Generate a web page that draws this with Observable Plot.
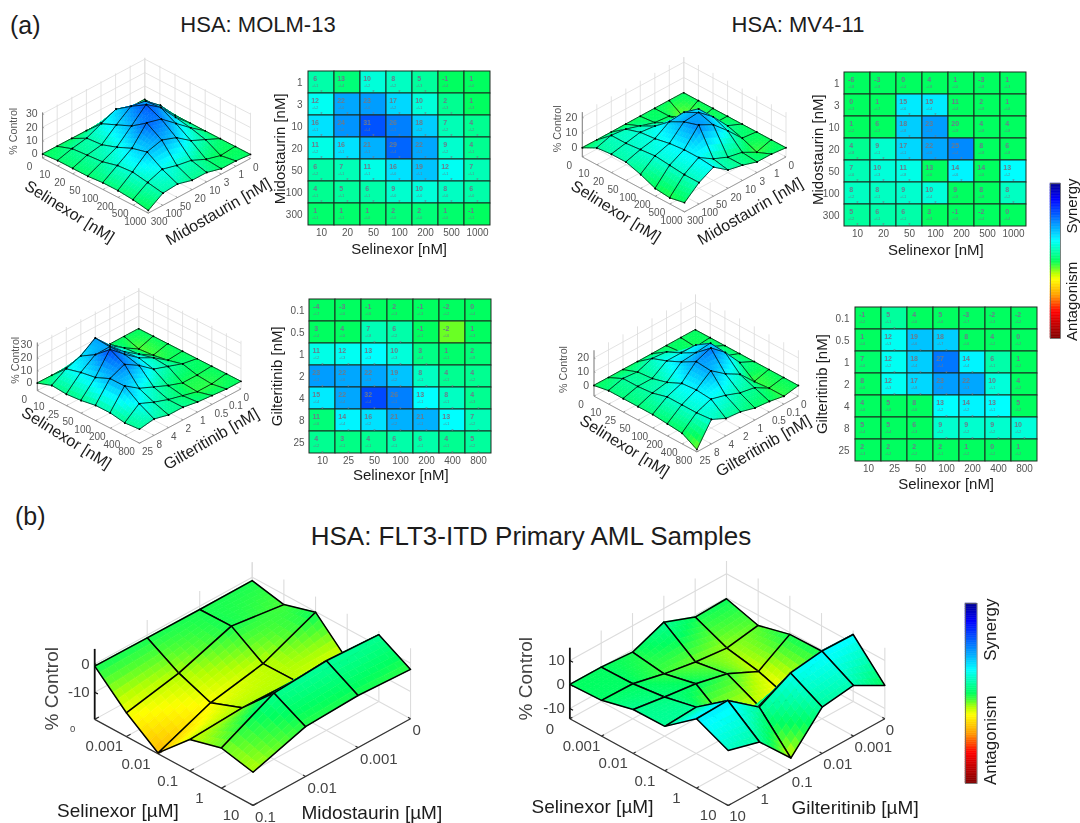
<!DOCTYPE html>
<html>
<head>
<meta charset="utf-8">
<script src="https://cdn.jsdelivr.net/npm/d3@7"></script>
<script src="https://cdn.jsdelivr.net/npm/@observablehq/plot@0.6"></script>
<style>
html,body{margin:0;padding:0;background:#fff}
#page{position:relative;width:1080px;height:823px;overflow:hidden;font-family:"Liberation Sans",Arial,sans-serif;color:#1c1c1c}
.t{position:absolute;white-space:nowrap;line-height:1}
</style>
</head>
<body>
<div id="page"></div>
<script>
// ---------- tick labels ----------
const selinexorMido = ["10","20","50","100","200","500","1000"];
const midostaurinNM = ["1","3","10","20","50","100","300"];
const selinexorGilt = ["10","25","50","100","200","400","800"];
const gilteritinibNM = ["0.1","0.5","1","2","4","8","25"];
const selinexorUM = ["0","0.001","0.01","0.1","1","10"];
const midostaurinUM = ["0","0.001","0.01","0.1"];
const gilteritinibUM = ["0","0.001","0.01","0.1","1","10"];

// ---------- HSA scores (rows: second drug, columns: selinexor) ----------
const molmMido = [[6,13,10,8,5,-1,1],[12,22,23,17,10,2,1],[16,24,31,26,18,7,4],[11,16,21,29,22,9,4],[6,7,11,16,19,12,7],[4,5,6,9,10,8,6],[1,1,1,2,2,1,-1]];
const molmMidoErr = [[1,4,2,2,3,4,0],[2,0,0,2,1,3,3],[1,0,4,1,2,2,2],[2,1,1,4,1,2,1],[2,1,1,0,1,1,1],[1,1,1,0,0,0,0],[1,1,0,0,0,0,1]];
const molmMidoShade = [[6,2,10,8,5,0,0],[12,22,23,17,10,4,0],[16,24,31,26,18,7,4],[11,16,21,29,22,9,4],[6,7,11,16,19,12,7],[4,5,6,9,10,8,6],[1,1,1,2,2,1,0]];

const mvMido = [[-6,-3,0,4,1,-3,1],[0,1,15,15,11,2,1],[1,6,18,23,20,4,4],[4,9,17,22,25,8,6],[7,10,11,13,14,14,13],[8,8,9,10,9,8,8],[5,6,6,3,-1,-2,0]];
const mvMidoErr = [[8,8,4,8,0,8,3],[3,7,6,4,4,8,6],[2,7,8,7,9,8,8],[8,1,1,6,4,8,8],[6,3,8,6,6,6,2],[2,1,1,4,8,8,2],[2,1,1,3,6,4,4]];
const mvMidoShade = [[0,0,0,0,0,0,0],[0,0,15,15,0,0,0],[0,0,18,23,0,0,0],[4,9,17,22,25,0,0],[7,10,11,0,14,0,13],[8,8,9,10,0,0,8],[5,6,6,0,0,0,0]];

const molmGilt = [[-4,-3,-1,2,-1,-2,0],[3,4,7,6,-1,-2,1],[11,12,13,10,3,1,2],[23,22,22,19,8,4,4],[15,22,32,26,13,8,4],[11,14,16,21,21,13,7],[4,3,4,6,6,4,5]];
const molmGiltErr = [[7,6,6,3,3,2,4],[4,6,8,2,1,6,3],[2,3,3,3,4,1,8],[1,6,3,2,1,1,2],[4,4,4,1,1,1,3],[6,4,2,2,1,1,2],[2,1,1,1,1,1,2]];
const molmGiltShade = [[0,0,0,0,0,0,0],[0,0,7,6,0,-5,0],[11,12,13,10,3,1,2],[23,22,22,19,8,4,4],[15,22,32,26,13,8,4],[2,14,16,21,21,13,7],[4,3,4,6,6,4,5]];

const mvGilt = [[-1,5,4,5,-3,-2,-2],[1,12,19,18,8,4,0],[7,12,18,27,14,6,1],[8,12,17,23,22,10,4],[4,5,8,13,14,13,5],[5,5,6,9,9,9,10],[2,2,2,2,1,0,1]];
const mvGiltErr = [[2,1,6,6,7,3,2],[6,3,6,7,6,2,2],[6,2,4,4,4,1,2],[6,3,8,6,3,1,2],[6,6,6,2,2,1,2],[4,4,3,2,2,2,2],[3,2,2,1,2,2,2]];
const mvGiltShade = [[0,5,0,0,0,0,0],[0,12,19,18,0,0,0],[1,12,18,27,14,6,0],[0,12,17,23,22,10,0],[0,0,0,13,14,13,0],[0,0,0,9,9,9,10],[0,0,0,0,0,0,0]];
const mvGiltFrontCorner = -6;   // surface corner at 800 nM / 25 nM

// ---------- primary AML surfaces (rows: second drug, columns: selinexor) ----------
const amlMido = [[-1.2,-3.6,-0.2,-11,4,-2.2],[-1.2,-1,-8.2,-8,5,-1.2],[-1,-7.4,-11.8,-7.5,3.8,-2],[-0.8,-11.2,-19.3,-8.5,-5.4,-7.9]];
const amlGilt = [[-0.4,-4.3,-0.8,-0.5,13.6,-0.4],[-0.8,-6.5,-9,-13.5,13.9,6.8],[4.3,-5.1,-2.8,-9,12,5],[-1,-2.8,0.3,-9,5,-9],[0,0.3,2,5,15,4.9],[0,0.6,4,4.2,14.6,8.6]];

// ---------- colour map ----------
const colorStops = [-50,-33,-22,-12,-8,-4,0,13,26,40,50];
const colorRange = ["#800000","#ff0000","#ffa000","#ffff00","#b8ff00","#50ff30","#00ff60","#00ffff","#0080ff","#0000ff","#000090"];
const colorOpts = {type:"linear",domain:colorStops,range:colorRange,clamp:true};
const FONT = '"Liberation Sans",Arial,sans-serif';
const page = document.getElementById("page");

function place(svg,left,top){
  svg.style.position="absolute"; svg.style.left=left+"px"; svg.style.top=top+"px";
  svg.style.maxWidth="none"; svg.style.filter="blur(0.3px)"; page.appendChild(svg);
}
function addText(s,x,y,size,anchor){
  const d=document.createElement("div"); d.className="t"; d.textContent=s;
  d.style.left=x+"px"; d.style.top=y+"px"; d.style.fontSize=size+"px";
  d.style.transform=anchor==="middle"?"translate(-50%,-50%)":"translateY(-50%)";
  page.appendChild(d);
}
addText("(a)",10,25,25);
addText("HSA: MOLM-13",258,25,22,"middle");
addText("HSA: MV4-11",798,25,22,"middle");
addText("(b)",15,516,25);
addText("HSA: FLT3-ITD Primary AML Samples",531,536,26,"middle");

// ---------- heat maps ----------
function heat(o){
  const cells=[];
  o.rows.forEach((r,j)=>o.cols.forEach((c,i)=>cells.push({col:c,row:r,val:o.values[j][i],err:o.errs[j][i],shade:o.shade[j][i]})));
  const ml=48,mr=6,mt=5,mb=36;
  const w=o.rect[1]-o.rect[0], h=o.rect[3]-o.rect[2];
  const dxT=-w/7/2+7, dyC=-h/7/2;
  const svg=Plot.plot({
    width:w+ml+mr,height:h+mt+mb,marginLeft:ml,marginRight:mr,marginTop:mt,marginBottom:mb,
    style:{background:"transparent",fontFamily:FONT,overflow:"visible"},
    x:{domain:o.cols,padding:0,axis:null},y:{domain:o.rows,padding:0,axis:null},
    color:colorOpts,
    marks:[
      Plot.cell(cells,{x:"col",y:"row",fill:"shade",stroke:"#1c2a20",strokeWidth:1}),
      Plot.text(cells,{x:"col",y:"row",text:d=>String(d.val),dx:dxT,dy:dyC+7,fontSize:7,fontWeight:"bold",fill:"#6b7a8c"}),
      Plot.text(cells,{x:"col",y:"row",text:d=>"+/-"+d.err,dx:dxT,dy:dyC+14.5,fontSize:3.6,fill:"#6b7a8c"}),
      Plot.text(cells.filter(d=>d.shade>=3),{x:"col",y:"row",text:()=>"*",dy:-dyC-1,fontSize:6,fill:"#6b7a8c"}),
      Plot.axisX({domain:o.cols,anchor:"bottom",tickSize:0,tickPadding:3,label:null,fontSize:10,fill:"#555"}),
      Plot.axisY({domain:o.rows,anchor:"left",tickSize:0,tickPadding:3,label:null,fontSize:10,fill:"#555"}),
      Plot.text([o.xLabel],{frameAnchor:"bottom",dy:o.xDy,lineAnchor:"middle",fontSize:15,fill:"#1c1c1c"}),
      Plot.text([o.yLabel],{frameAnchor:"left",dx:o.yDx,rotate:-90,textAnchor:"middle",lineAnchor:"middle",fontSize:15,fill:"#1c1c1c"})
    ]
  });
  place(svg,o.rect[0]-ml,o.rect[2]-mt);
}
heat({rows:midostaurinNM,cols:selinexorMido,values:molmMido,errs:molmMidoErr,shade:molmMidoShade,rect:[305,492.3,71,225.7],xLabel:"Selinexor [nM]",yLabel:"Midostaurin [nM]",xDy:23.3,yDx:-25});
heat({rows:midostaurinNM,cols:selinexorMido,values:mvMido,errs:mvMidoErr,shade:mvMidoShade,rect:[841.7,1028.3,71.7,226],xLabel:"Selinexor [nM]",yLabel:"Midostaurin [nM]",xDy:23,yDx:-24});
heat({rows:gilteritinibNM,cols:selinexorGilt,values:molmGilt,errs:molmGiltErr,shade:molmGiltShade,rect:[306.7,493.3,297.7,453.3],xLabel:"Selinexor [nM]",yLabel:"Gilteritinib [nM]",xDy:21.5,yDx:-30});
heat({rows:gilteritinibNM,cols:selinexorGilt,values:mvGilt,errs:mvGiltErr,shade:mvGiltShade,rect:[851.7,1039,305.7,461],xLabel:"Selinexor [nM]",yLabel:"Gilteritinib [nM]",xDy:22,yDx:-30.7});

// ---------- 3-D surfaces ----------
function withZeroEdges(m){
  const n=m[0].length;
  return [new Array(n+1).fill(0),...m.map(r=>[0,...r])];
}
function surface(o){
  const Z=o.z, nj=Z.length-1, ni=Z[0].length-1;
  const P=(i,j,z)=>({x:o.ex[0]*i+o.ey[0]*j, y:-(o.ex[1]*i+o.ey[1]*j)+o.k*z});
  const [left,top,W,H]=o.box, [bx,by]=o.back;
  const seg=(a,b)=>({x1:a.x,y1:a.y,x2:b.x,y2:b.y});
  const grid=[];
  for(let i=0;i<=ni;i++){
    grid.push(seg(P(i,0,o.zMin),P(i,nj,o.zMin)));
    grid.push(seg(P(i,0,o.zMin),P(i,0,o.zMax)));
  }
  for(let j=0;j<=nj;j++){
    grid.push(seg(P(0,j,o.zMin),P(ni,j,o.zMin)));
    grid.push(seg(P(0,j,o.zMin),P(0,j,o.zMax)));
  }
  for(const t of o.zTicks){
    grid.push(seg(P(0,0,t),P(0,nj,t)));
    grid.push(seg(P(0,0,t),P(ni,0,t)));
  }
  const axes=[seg(P(0,nj,o.zMin),P(ni,nj,o.zMin)),seg(P(ni,0,o.zMin),P(ni,nj,o.zMin))];
  const ticks=[];
  for(let i=0;i<=ni;i++) ticks.push(seg(P(i,nj,o.zMin),P(i,nj-o.tick,o.zMin)));
  for(let j=0;j<=nj;j++) ticks.push(seg(P(ni,j,o.zMin),P(ni-o.tick,j,o.zMin)));
  const zAxis=[seg(P(0,nj,o.zMin),P(0,nj,o.zMax))];
  const zTicks=o.zTicks.map(t=>seg(P(0,nj,t),P(0.1,nj,t)));
  const marks=[
    Plot.link(grid,{x1:"x1",y1:"y1",x2:"x2",y2:"y2",stroke:"#dcdcdc",strokeWidth:o.big?1.1:0.8}),
    Plot.link(axes,{x1:"x1",y1:"y1",x2:"x2",y2:"y2",stroke:o.axisColor,strokeWidth:o.axisWidth}),
    Plot.link(ticks,{x1:"x1",y1:"y1",x2:"x2",y2:"y2",stroke:o.axisColor,strokeWidth:o.axisWidth}),
    Plot.link(zAxis,{x1:"x1",y1:"y1",x2:"x2",y2:"y2",stroke:o.zColor,strokeWidth:o.zWidth}),
    Plot.link(zTicks,{x1:"x1",y1:"y1",x2:"x2",y2:"y2",stroke:o.zColor,strokeWidth:o.zWidth*0.7})
  ];
  // painter's algorithm: cells from the back corner to the front corner
  const S=o.sub;
  for(let d=0;d<=ni+nj-2;d++){
    const fills=[],mesh=[];
    let id=0;
    for(let i=0;i<ni;i++){
      const j=d-i;
      if(j<0||j>=nj) continue;
      const z00=Z[j][i],z10=Z[j][i+1],z01=Z[j+1][i],z11=Z[j+1][i+1];
      const bil=(u,v)=>z00*(1-u)*(1-v)+z10*u*(1-v)+z01*(1-u)*v+z11*u*v;
      for(let a=0;a<S;a++)for(let b=0;b<S;b++){
        const u0=a/S,u1=(a+1)/S,v0=b/S,v1=(b+1)/S;
        const val=bil((u0+u1)/2,(v0+v1)/2);
        const key=id++;
        [[u0,v0],[u1,v0],[u1,v1],[u0,v1]].forEach(([u,v])=>{
          const p=P(i+u,j+v,bil(u,v));
          fills.push({x:p.x,y:p.y,id:key,v:val});
        });
      }
      const key=id++;
      [[i,j,z00],[i+1,j,z10],[i+1,j+1,z11],[i,j+1,z01]].forEach(([a,b,z])=>{
        const p=P(a,b,z); mesh.push({x:p.x,y:p.y,id:key});
      });
    }
    marks.push(Plot.line(fills,{x:"x",y:"y",z:"id",fill:"v",stroke:"v",strokeWidth:0.7,curve:"linear-closed"}));
    marks.push(Plot.line(mesh,{x:"x",y:"y",z:"id",stroke:"#000",strokeWidth:o.meshWidth,curve:"linear-closed"}));
    if(o.dots) marks.push(Plot.dot(mesh,{x:"x",y:"y",r:0.9,fill:"#000"}));
  }
  const selT=o.iLabels.map((s,i)=>({...P(i,nj,o.zMin),s}));
  const midT=o.jLabels.map((s,j)=>({...P(ni,j,o.zMin),s}));
  const zT=o.zTicks.map(t=>({...P(0,nj,t),s:String(t)}));
  const selMid=P(ni/2,nj,o.zMin), midMid=P(ni,nj/2,o.zMin);
  const ctrl=P(0,nj,o.ctrl[1]);
  marks.push(
    Plot.text(selT,{x:"x",y:"y",text:"s",dx:o.iOff[0],dy:o.iOff[1],fontSize:d=>(o.firstFont&&d.s==="0")?o.firstFont:o.tickFont,fill:o.labelColor}),
    Plot.text(midT,{x:"x",y:"y",text:"s",dx:o.jOff[0],dy:o.jOff[1],textAnchor:"start",fontSize:o.tickFont,fill:o.labelColor}),
    Plot.text(zT,{x:"x",y:"y",text:"s",dx:-5,textAnchor:"end",fontSize:o.zFont,fill:o.labelColor}),
    Plot.text(["% Control"],{x:()=>ctrl.x,y:()=>ctrl.y,dx:o.ctrl[0],rotate:-90,fontSize:o.ctrlFont,fill:o.labelColor}),
    Plot.text([o.iTitle],{x:()=>selMid.x,y:()=>selMid.y,dx:o.iTitleOff[0],dy:o.iTitleOff[1],rotate:o.iRot,fontSize:o.titleFont,fill:"#1c1c1c"}),
    Plot.text([o.jTitle],{x:()=>midMid.x,y:()=>midMid.y,dx:o.jTitleOff[0],dy:o.jTitleOff[1],rotate:o.jRot,fontSize:o.titleFont,fill:"#1c1c1c"})
  );
  const svg=Plot.plot({
    width:W,height:H,margin:0,
    style:{background:"transparent",fontFamily:FONT,overflow:"visible"},
    x:{domain:[left-bx,left+W-bx],range:[0,W],axis:null},
    y:{domain:[by-top-H,by-top],range:[H,0],axis:null},
    color:colorOpts,marks
  });
  place(svg,left,top);
}
const smallStyle={sub:5,dots:true,tick:0.12,meshWidth:0.7,axisColor:"#8a8a8a",axisWidth:0.8,zColor:"#777",zWidth:0.9,labelColor:"#555",tickFont:10,zFont:10.5,ctrlFont:10.7,titleFont:16,iRot:32,jRot:-30};
const bigStyle={sub:7,dots:false,big:true,tick:0.08,meshWidth:1.5,axisColor:"#333",axisWidth:1.2,zColor:"#111",zWidth:1.8,labelColor:"#444",tickFont:15,zFont:15,ctrlFont:19,titleFont:19,iRot:0,jRot:0};

surface({...smallStyle,z:withZeroEdges(molmMido),box:[0,40,275,200],back:[144.3,99],ex:[15.1,7.85],ey:[-14.6,7.8],k:1.345,zMin:-3,zMax:31,zTicks:[0,10,20,30],
  iLabels:["0",...selinexorMido],jLabels:["0",...midostaurinNM],iOff:[-13,9],jOff:[2.5,9],iTitle:"Selinexor [nM]",jTitle:"Midostaurin [nM]",iTitleOff:[-26,26],jTitleOff:[19,26],ctrl:[-29,17]});
surface({...smallStyle,z:withZeroEdges(mvMido),box:[540,40,270,200],back:[683.3,92.3],ex:[14.6,7.85],ey:[-14.5,7.85],k:1.53,zMin:-6,zMax:23.3,zTicks:[0,10,20],
  iLabels:["0",...selinexorMido],jLabels:["0",...midostaurinNM],iOff:[-13,9],jOff:[2.5,9],iTitle:"Selinexor [nM]",jTitle:"Midostaurin [nM]",iTitleOff:[-17.5,27],jTitleOff:[15,27],ctrl:[-25,12.4]});
surface({...smallStyle,z:withZeroEdges(molmGilt),box:[0,280,275,195],back:[138.3,328.3],ex:[14.6,7.5],ey:[-14.5,7.75],k:1.267,zMin:-6,zMax:32,zTicks:[0,10,20,30],
  iLabels:["0",...selinexorGilt],jLabels:["0",...gilteritinibNM],iOff:[-13,9],jOff:[2.5,9],iTitle:"Selinexor [nM]",jTitle:"Gilteritinib [nM]",iTitleOff:[-22,21],jTitleOff:[21,23],ctrl:[-21.7,18]});
const mvGiltZ=withZeroEdges(mvGilt); mvGiltZ[7][7]=mvGiltFrontCorner;
surface({...smallStyle,z:mvGiltZ,box:[540,285,270,195],back:[695,329.3],ex:[14.7,7.96],ey:[-14.5,7.96],k:1.383,zMin:-7.7,zMax:25.5,zTicks:[0,10,20],
  iLabels:["0",...selinexorGilt],jLabels:["0",...gilteritinibNM],iOff:[-13,9],jOff:[2.5,9],iTitle:"Selinexor [nM]",jTitle:"Gilteritinib [nM]",iTitleOff:[-21,22],jTitleOff:[15.7,22],ctrl:[-30,11.6]});
surface({...bigStyle,z:amlMido,box:[30,550,420,273],back:[251.7,576.7],ex:[31.67,17.2],ey:[-52.5,28.9],k:2.83,zMin:-19.6,zMax:5.3,zTicks:[-10,0],firstFont:9.5,
  iLabels:selinexorUM,jLabels:midostaurinUM,iOff:[-22,10],jOff:[2,12],iTitle:"Selinexor [µM]",jTitle:"Midostaurin [µM]",iTitleOff:[-56,49],jTitleOff:[40,51],ctrl:[-43,-8.8]});
surface({...bigStyle,z:amlGilt,box:[510,550,430,273],back:[726,597.3],ex:[31.67,17.33],ey:[-31.33,17.33],k:2.4,zMin:-14.3,zMax:15.3,zTicks:[-10,0,10],
  iLabels:selinexorUM,jLabels:gilteritinibUM,iOff:[-20,10],jOff:[1,11],iTitle:"Selinexor [µM]",jTitle:"Gilteritinib [µM]",iTitleOff:[-56.5,45],jTitleOff:[48.6,46],ctrl:[-44,2.4]});

// ---------- colour bars ----------
const barLevels = d3.range(-50,50,1);
function colorBar(x0,x1,y0,y1,size){
  const w=x1-x0,h=y1-y0,mr=30;
  const svg=Plot.plot({
    width:w+mr,height:h,margin:0,marginRight:mr,
    style:{background:"transparent",fontFamily:FONT,overflow:"visible"},
    x:{domain:[0,1],axis:null},y:{domain:[-50,50],axis:null},color:colorOpts,
    marks:[
      Plot.rect(barLevels,{x1:()=>0,x2:()=>1,y1:d=>d,y2:d=>d+1,fill:d=>d+0.5,stroke:d=>d+0.5,strokeWidth:0.5}),
      Plot.frame({stroke:"#666",strokeWidth:0.8}),
      Plot.text(["Synergy"],{x:()=>2.2,y:()=>35.5,rotate:-90,fontSize:size,fill:"#1c1c1c"}),
      Plot.text(["Antagonism"],{x:()=>2.2,y:()=>-26,rotate:-90,fontSize:size,fill:"#1c1c1c"})
    ]
  });
  place(svg,x0,y0);
}
colorBar(1050,1060,182.7,337.7,15);
colorBar(965.4,977,603,783,17);
</script>
</body>
</html>
